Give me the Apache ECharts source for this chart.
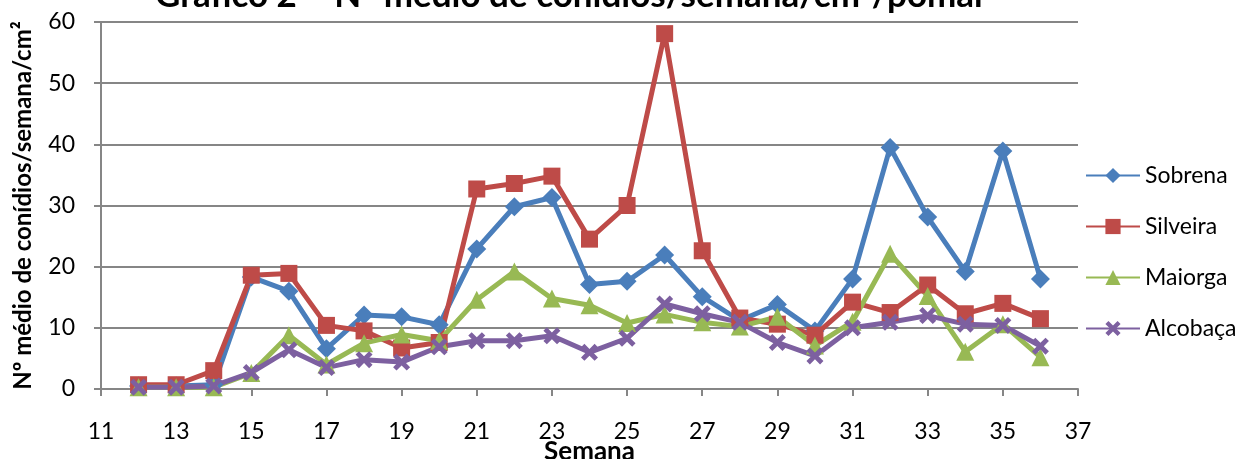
<!DOCTYPE html>
<html>
<head>
<meta charset="utf-8">
<script src="https://cdn.jsdelivr.net/npm/echarts@6/dist/echarts.min.js"></script>
<style>
  html, body { margin: 0; padding: 0; background: #fff; }
  #chart { width: 1239px; height: 459px; }
</style>
</head>
<body>
<div id="chart"></div>
<script>
// semanas e valores
const weeks = [12, 13, 14, 15, 16, 17, 18, 19, 20, 21, 22, 23, 24, 25, 26, 27, 28, 29, 30, 31, 32, 33, 34, 35, 36];
const sobrena = [0.5, 0.5, 0.7, 18.3, 16, 6.6, 12.1, 11.8, 10.5, 22.9, 29.8, 31.3, 17.1, 17.6, 21.9, 15.1, 11.2, 13.8, 9.5, 18, 39.5, 28.1, 19.2, 38.9, 18];
const silveira = [0.7, 0.7, 3, 18.6, 18.9, 10.4, 9.5, 6.7, 7.6, 32.7, 33.6, 34.8, 24.5, 30, 58.1, 22.6, 11.6, 10.6, 8.8, 14.2, 12.5, 17, 12.3, 14, 11.5];
const maiorga = [0.3, 0.3, 0.3, 2.6, 8.8, 4, 7.5, 8.9, 7.9, 14.6, 19.2, 14.8, 13.7, 10.8, 12.2, 10.9, 10.2, 11.8, 7.1, 11, 22.1, 15.2, 6.1, 10.6, 5.2];
const alcobaca = [0.3, 0.3, 0.5, 2.7, 6.4, 3.5, 4.8, 4.4, 6.9, 7.9, 7.9, 8.7, 6, 8.3, 13.9, 12.3, 10.9, 7.6, 5.4, 10, 10.9, 12, 10.6, 10.4, 7];
const yTicks = [0, 10, 20, 30, 40, 50, 60];

const font = 'Lato, "Open Sans", sans-serif';
const axisGray = '#868686';
// marcador em X (cruz) para Alcobaça
const crossPath = 'path://M0,2 L2,0 L5,3 L8,0 L10,2 L7,5 L10,8 L8,10 L5,7 L2,10 L0,8 L3,5 Z';

const seriesDefs = [
  { name: 'Sobrena', data: sobrena, color: '#4a7ebb', symbol: 'diamond', size: 19 },
  { name: 'Silveira', data: silveira, color: '#be4b48', symbol: 'rect', size: 17 },
  { name: 'Maiorga', data: maiorga, color: '#98b954', symbol: 'triangle', size: 18 },
  { name: 'Alcobaça', data: alcobaca, color: '#7d60a0', symbol: crossPath, size: 17 }
];

const chart = echarts.init(document.getElementById('chart'));

const series = seriesDefs.map((s) => ({
  name: s.name,
  type: 'line',
  data: weeks.map((w, i) => [w, s.data[i]]),
  symbol: s.symbol,
  symbolSize: s.size,
  showAllSymbol: true,
  lineStyle: { width: 5, color: s.color },
  itemStyle: { color: s.color },
  emphasis: { disabled: true }
}));

chart.setOption({
  animation: false,
  title: {
    text: 'Gráfico 2 – Nº médio de conídios/semana/cm²/pomar',
    left: 150,
    top: -27,
    textStyle: { fontFamily: font, fontSize: 35, fontWeight: 'bold', color: '#000' }
  },
  legend: {
    orient: 'vertical',
    left: 1080,
    top: 159,
    itemWidth: 54,
    itemHeight: 19,
    itemGap: 28,
    textStyle: { fontFamily: font, fontSize: 23, color: '#000' },
    data: seriesDefs.map((s) => s.name)
  },
  grid: { left: 101, right: 161, top: 22, bottom: 70, outerBoundsMode: 'none', containLabel: false },
  xAxis: {
    type: 'value',
    min: 11,
    max: 37,
    interval: 2,
    name: 'Semana',
    nameLocation: 'middle',
    nameGap: 50,
    nameMoveOverlap: false,
    nameTextStyle: { fontFamily: font, fontSize: 26, fontWeight: 'bold', color: '#000' },
    axisLine: { lineStyle: { color: axisGray, width: 2 } },
    axisTick: { show: true, length: 7, lineStyle: { color: axisGray, width: 2 } },
    axisLabel: { fontFamily: font, fontSize: 23, color: '#000', margin: 31 },
    splitLine: { show: false }
  },
  yAxis: {
    type: 'value',
    min: yTicks[0],
    max: yTicks[yTicks.length - 1],
    interval: 10,
    name: 'Nº médio de conídios/semana/cm²',
    nameLocation: 'middle',
    nameGap: 66,
    nameMoveOverlap: false,
    nameTextStyle: { fontFamily: font, fontSize: 24, fontWeight: 'bold', color: '#000' },
    axisLine: { show: true, lineStyle: { color: axisGray, width: 2 } },
    axisTick: { show: true, length: 7, lineStyle: { color: axisGray, width: 2 } },
    axisLabel: { fontFamily: font, fontSize: 23, color: '#000', margin: 26 },
    splitLine: { show: true, lineStyle: { color: axisGray, width: 2 } }
  },
  series: series
});
</script>
</body>
</html>
